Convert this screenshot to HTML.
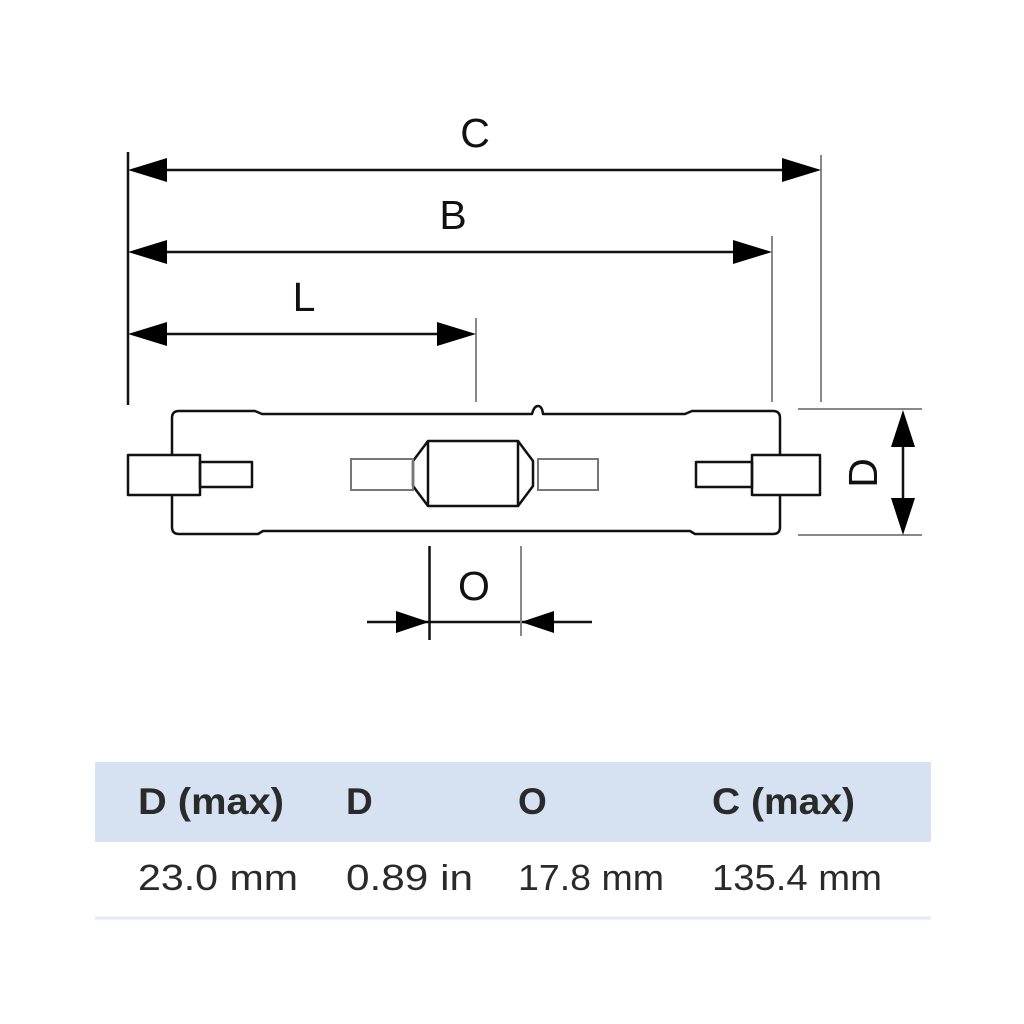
<!DOCTYPE html>
<html><head><style>
html,body{margin:0;padding:0;background:#fff;width:1024px;height:1024px;overflow:hidden}
</style></head><body>
<svg width="1024" height="1024" viewBox="0 0 1024 1024" xmlns="http://www.w3.org/2000/svg" style="position:absolute;left:0;top:0">
<g font-family="Liberation Sans, sans-serif" font-size="41" fill="#111">
<text x="475" y="147" text-anchor="middle">C</text>
<text x="453" y="229" text-anchor="middle">B</text>
<text x="304" y="311" text-anchor="middle">L</text>
<text x="474" y="600" text-anchor="middle">O</text>
<text transform="translate(877,473) rotate(-90)" text-anchor="middle">D</text>
</g>
<g stroke="#111" stroke-width="2.5" fill="none">
<line x1="128" y1="152" x2="128" y2="405"/>
<line x1="160" y1="170" x2="790" y2="170"/>
<line x1="160" y1="252" x2="740" y2="252"/>
<line x1="160" y1="334" x2="445" y2="334"/>
<line x1="903" y1="440" x2="903" y2="505"/>
<line x1="367" y1="622" x2="592" y2="622"/>
<line x1="429.5" y1="546" x2="429.5" y2="640"/>
</g>
<g stroke="#888" stroke-width="2" fill="none">
<line x1="821" y1="155" x2="821" y2="402"/>
<line x1="772" y1="236" x2="772" y2="402"/>
<line x1="476" y1="318" x2="476" y2="402"/>
<line x1="521" y1="546" x2="521" y2="636"/>
<line x1="798" y1="409" x2="922" y2="409"/>
<line x1="798" y1="535" x2="922" y2="535"/>
</g>
<g fill="#000">
<polygon points="128,170 167,158 167,182"/>
<polygon points="821,170 782,158 782,182"/>
<polygon points="128,252 167,240 167,264"/>
<polygon points="772,252 733,240 733,264"/>
<polygon points="128,334 167,322 167,346"/>
<polygon points="476,334 437,322 437,346"/>
<polygon points="903,410 891,447 915,447"/>
<polygon points="903,535 891,498 915,498"/>
<polygon points="429,622 396,611 396,633"/>
<polygon points="521,622 554,611 554,633"/>
</g>
<g stroke="#111" stroke-width="2.5" fill="none" stroke-linejoin="round">
<path d="M172,455 L172,418 Q172,411 179,411 L255,411 L262,414 L532,414 Q534,406 538,406 Q542,406 543,414 L685,414 L692,411 L773,411 Q780,411 780,418 L780,455"/>
<path d="M172,496 L172,527 Q172,534 179,534 L258,534 L263,531 L690,531 L695,534 L773,534 Q780,534 780,527 L780,496"/>
<rect x="128" y="455" width="72" height="40"/>
<rect x="200" y="462" width="52" height="25"/>
<rect x="752" y="455" width="68" height="40"/>
<rect x="696" y="462" width="56" height="25"/>
<rect x="428" y="441" width="90" height="65"/>
<path d="M428,441 L413,461 L413,486 L428,506"/>
<path d="M518,441 L533,461 L533,486 L518,506"/>
</g>
<g stroke="#777" stroke-width="2" fill="none">
<rect x="351" y="459" width="62" height="31"/>
<rect x="538" y="459" width="60" height="31"/>
</g>
<rect x="95" y="762" width="836" height="80" fill="#d6e2f1"/>
<line x1="95" y1="918" x2="931" y2="918" stroke="#e2eaf4" stroke-width="3"/>
<g font-family="Liberation Sans, sans-serif" font-size="37" fill="#2a2a2a">
<text x="138" y="814" font-weight="bold" textLength="146" lengthAdjust="spacingAndGlyphs">D (max)</text>
<text x="346" y="814" font-weight="bold">D</text>
<text x="518" y="814" font-weight="bold">O</text>
<text x="712" y="814" font-weight="bold" textLength="143" lengthAdjust="spacingAndGlyphs">C (max)</text>
<text x="138" y="890" font-size="36" textLength="160" lengthAdjust="spacingAndGlyphs">23.0 mm</text>
<text x="346" y="890" font-size="36" textLength="127" lengthAdjust="spacingAndGlyphs">0.89 in</text>
<text x="518" y="890" font-size="36" textLength="146" lengthAdjust="spacingAndGlyphs">17.8 mm</text>
<text x="712" y="890" font-size="36" textLength="170" lengthAdjust="spacingAndGlyphs">135.4 mm</text>
</g>
</svg>
</body></html>
